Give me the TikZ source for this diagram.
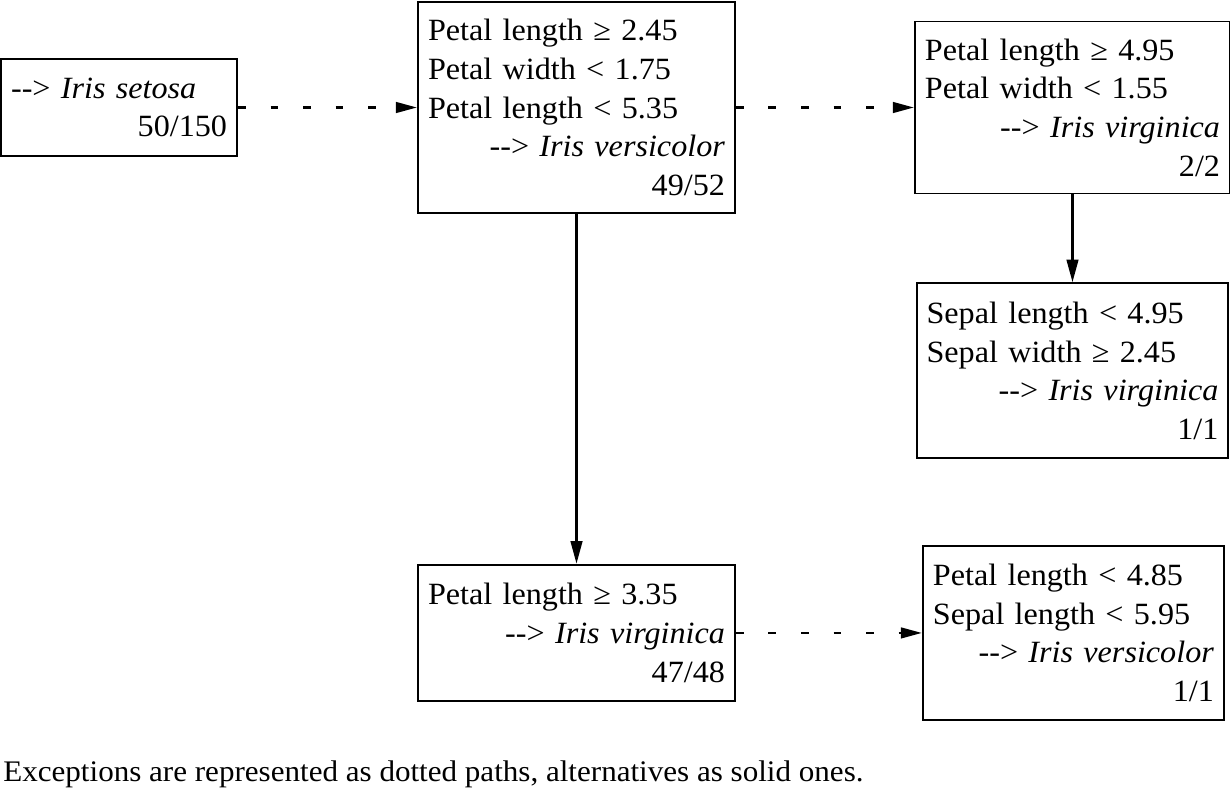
\documentclass[tikz,border=0pt]{standalone}
\usepackage{fontspec}
\setmainfont[FakeStretch=1.04]{Liberation Serif}
\usetikzlibrary{arrows.meta, positioning}
\newcommand{\dd}{-\kern0pt-\kern0pt>}
\newcommand{\concl}[1]{\hspace*{\fill}\dd\ \textit{#1}}
\newcommand{\cnt}[1]{\hspace*{\fill}#1}

\begin{document}
\begin{tikzpicture}[
    box/.style={rectangle, draw=black, line width=1.1pt, inner xsep=5.7pt, inner ysep=4pt, align=left, font=\fontsize{17.6}{22}\selectfont},
    arrow/.style={-{Triangle[length=13pt, width=6.5pt]}, line width=1.7pt},
    dasharrow/.style={-{Triangle[length=12pt, width=6pt]}, line width=1.5pt, dash pattern=on 4.5pt off 14pt}
]
\useasboundingbox (0,0) rectangle (24.6,-15.84);
\node[box, text width=169pt, minimum height=4.22cm] (vers) at (11.53,-2.15) {Petal length ≥ 2.45\\Petal width < 1.75\\Petal length < 5.35\\\concl{Iris versicolor}\\\cnt{49/52}};
\node[box, text width=122.9pt, minimum height=1.94cm, left=3.58cm of vers] (setosa) {\dd\ \textit{Iris setosa}\\\cnt{50/150}};
\node[box, text width=167.9pt, minimum height=3.44cm, right=3.56cm of vers] (virg1) {Petal length ≥ 4.95\\Petal width < 1.55\\\concl{Iris virginica}\\\cnt{2/2}};
\node[box, text width=166.1pt, minimum height=3.5cm, below=1.76cm of virg1] (virg2) {Sepal length < 4.95\\Sepal width ≥ 2.45\\\concl{Iris virginica}\\\cnt{1/1}};
\node[box, text width=169pt, minimum height=2.72cm, below=7.0cm of vers] (virg3) {Petal length ≥ 3.35\\\concl{Iris virginica}\\\cnt{47/48}};
\node[box, text width=159.9pt, minimum height=3.48cm, right=3.72cm of virg3] (vers2) {Petal length < 4.85\\Sepal length < 5.95\\\concl{Iris versicolor}\\\cnt{1/1}};
\node[anchor=base west, inner sep=0pt, font=\fontsize{17}{22}\selectfont] (caption) at (0.06,-15.62) {Exceptions are represented as dotted paths, alternatives as solid ones.};

\draw[dasharrow] (setosa) -- (vers);
\draw[dasharrow] (vers) -- (virg1);
\draw[arrow] (vers) -- (virg3);
\draw[arrow] (virg1.south) -- (virg1.south |- virg2.north);
\draw[dasharrow] (virg3) -- (vers2);
\end{tikzpicture}
\end{document}
